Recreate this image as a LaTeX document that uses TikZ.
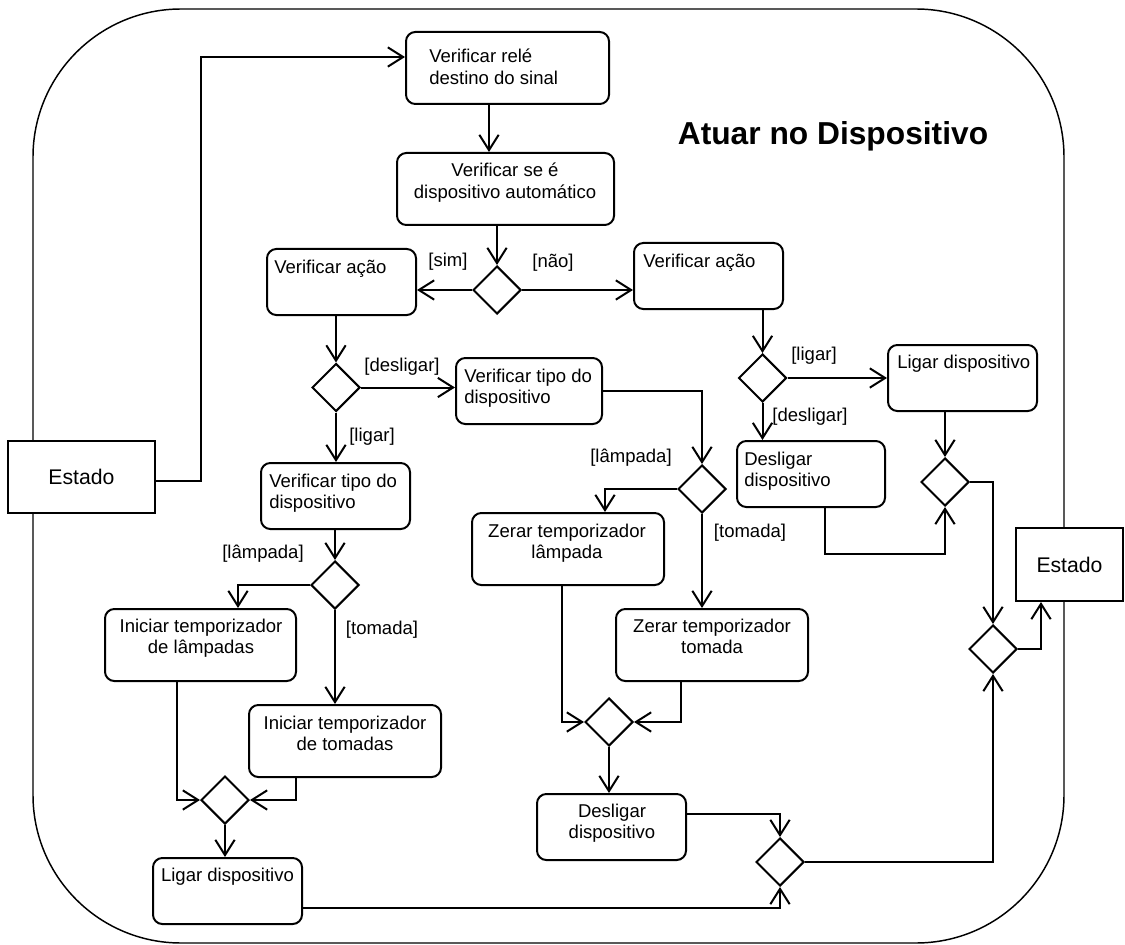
\documentclass[tikz,border=0pt]{standalone}
\usepackage{fontspec}
\setmainfont{Liberation Sans}
\usetikzlibrary{arrows.meta,shapes.geometric}
\begin{document}
\begin{tikzpicture}[x=0.75pt,y=-0.75pt,
  every node/.style={font=\fontsize{13.9}{15.9}\selectfont},
  sz/.style 2 args={minimum width=#1*0.75pt,minimum height=#2*0.75pt},
  act/.style={draw,rounded corners=7pt,line width=1.5pt,fill=white,inner sep=0pt},
  obj/.style={draw,line width=1.5pt,fill=white,inner sep=0pt,font=\fontsize{15.9}{18}\selectfont},
  dec/.style={draw,diamond,line width=1.5pt,fill=white,inner sep=0pt,minimum width=36pt,minimum height=36pt},
  txt/.style={inner sep=0pt},
  guard/.style={inner sep=0pt},
  flow/.style={line width=1.5pt,-{Straight Barb[length=11.5pt,width=14.5pt]}}]

\useasboundingbox (0,0) rectangle (1125,945);

% activity frame
\draw[line width=1.1pt,rounded corners=111pt] (33,9) rectangle (1064,943);
\node[anchor=base,font=\fontsize{23.8}{28}\selectfont\bfseries] (title) at (833,145) {Atuar no Dispositivo};

% object nodes
\node[obj,sz={147}{72}] (estL) at (81.5,477) {Estado};
\node[obj,sz={107}{73}] (estR) at (1069.5,564.5) {Estado};

% action boxes
\node[act,sz={203}{72}] (b1) at (507.5,68) {};
\node[act,sz={217}{72}] (b2) at (505.5,189) {};
\node[act,sz={149}{66}] (vaL) at (341.5,282) {};
\node[act,sz={149}{66}] (vaR) at (708.5,276) {};
\node[act,sz={146}{66}] (vtM) at (529,391) {};
\node[act,sz={149}{66}] (vtL) at (335.5,496) {};
\node[act,sz={192}{72}] (zl) at (568,549) {};
\node[act,sz={192}{72}] (zt) at (712,645) {};
\node[act,sz={191}{72}] (il) at (200.5,645) {};
\node[act,sz={192}{72}] (it) at (345,741) {};
\node[act,sz={149}{66}] (lgL) at (227.5,891) {};
\node[act,sz={149}{66}] (dsM) at (611.5,827) {};
\node[act,sz={149}{66}] (lgR) at (962.5,378) {};
\node[act,sz={148}{66}] (dsR) at (811,474) {};

% action texts
\node[txt,anchor=north west,align=left] (tb1) at (429,49) {Verificar relé\\destino do sinal};
\node[txt,anchor=north,align=center] (tb2) at (505,163) {Verificar se é\\dispositivo automático};
\node[txt,anchor=north west,align=left] (tvaL) at (274,260) {Verificar ação};
\node[txt,anchor=north west,align=left] (tvaR) at (643,254) {Verificar ação};
\node[txt,anchor=north west,align=left] (tvtM) at (464,369) {Verificar tipo do\\dispositivo};
\node[txt,anchor=north west,align=left] (tvtL) at (269,474) {Verificar tipo do\\dispositivo};
\node[txt,anchor=north,align=center] (tzl) at (567,524) {Zerar temporizador\\lâmpada};
\node[txt,anchor=north,align=center] (tzt) at (712,619) {Zerar temporizador\\tomada};
\node[txt,anchor=north,align=center] (til) at (201,619) {Iniciar temporizador\\de lâmpadas};
\node[txt,anchor=north,align=center] (tit) at (345,716) {Iniciar temporizador\\de tomadas};
\node[txt,anchor=north,align=center] (tlgL) at (227.5,868) {Ligar dispositivo};
\node[txt,anchor=north,align=center] (tdsM) at (612,804) {Desligar\\dispositivo};
\node[txt,anchor=north west,align=left] (tlgR) at (897,355) {Ligar dispositivo};
\node[txt,anchor=north west,align=left] (tdsR) at (744,452) {Desligar\\dispositivo};

% decision / merge nodes
\node[dec] (d1) at (497,290) {};
\node[dec] (d2) at (336,387.5) {};
\node[dec] (d3) at (702,489) {};
\node[dec] (d4) at (335,585) {};
\node[dec] (d5) at (225,800) {};
\node[dec] (d6) at (762.5,378) {};
\node[dec] (d7) at (780,862) {};
\node[dec] (d8) at (993,649) {};
\node[dec] (d9) at (945,482) {};
\node[dec] (d10) at (609,722) {};

% guards
\node[guard] (gsim) at (448,262) {[sim]};
\node[guard] (gnao) at (553,263) {[não]};
\node[guard] (gdes1) at (402,367) {[desligar]};
\node[guard] (glig1) at (372,437) {[ligar]};
\node[guard] (glam1) at (263,554) {[lâmpada]};
\node[guard] (gtom1) at (382,630) {[tomada]};
\node[guard] (glam2) at (631,458) {[lâmpada]};
\node[guard] (gtom2) at (750,533) {[tomada]};
\node[guard] (glig2) at (814,356) {[ligar]};
\node[guard] (gdes2) at (810,417) {[desligar]};

% control flows
\coordinate (k1) at (201,57);
\draw[flow] ([yshift=-3pt]estL.east) -| (k1) -- (k1 -| b1.west);
\draw[flow] (489,0 |- b1.south) -- (489,0 |- b2.north);
\draw[flow] (d1.north |- b2.south) -- (d1.north);
\draw[flow] (d1.west) -- (d1.west -| vaL.east);
\draw[flow] (d1.east) -- (d1.east -| vaR.west);
\draw[flow] (d2.north |- vaL.south) -- (d2.north);
\draw[flow] (d2.east) -- (d2.east -| vtM.west);
\draw[flow] (d2.south) -- (d2.south |- vtL.north);
\draw[flow] (vtM.east) -| (d3.north);
\draw[flow] (d3.west) -| (605,0 |- zl.north);
\draw[flow] (d3.south) -- (d3.south |- zt.north);
\draw[flow] (d4.north |- vtL.south) -- (d4.north);
\draw[flow] (d4.west) -| (238,0 |- il.north);
\draw[flow] (d4.south) -- (d4.south |- it.north);
\draw[flow] (177,0 |- il.south) |- (d5.west);
\draw[flow] (296,0 |- it.south) |- (d5.east);
\draw[flow] (d5.south) -- (d5.south |- lgL.north);
\draw[flow] ([yshift=-12.75pt]lgL.east) -| (d7.south);
\draw[flow] (562,0 |- zl.south) |- (d10.west);
\draw[flow] (681,0 |- zt.south) |- (d10.east);
\draw[flow] (d10.south) -- (d10.south |- dsM.north);
\draw[flow] ([yshift=9.75pt]dsM.east) -| (d7.north);
\draw[flow] (d7.east) -| (d8.south);
\draw[flow] (d8.east) -| (1041,0 |- estR.south);
\draw[flow] (d6.north |- vaR.south) -- (d6.north);
\draw[flow] (d6.east) -- (d6.east -| lgR.west);
\draw[flow] (d6.south) -- (d6.south |- dsR.north);
\draw[flow] (d9.north |- lgR.south) -- (d9.north);
\coordinate (k2) at (825,554);
\draw[flow] (k2 |- dsR.south) -- (k2) -| (d9.south);
\draw[flow] (d9.east) -| (d8.north);
\end{tikzpicture}
\end{document}
